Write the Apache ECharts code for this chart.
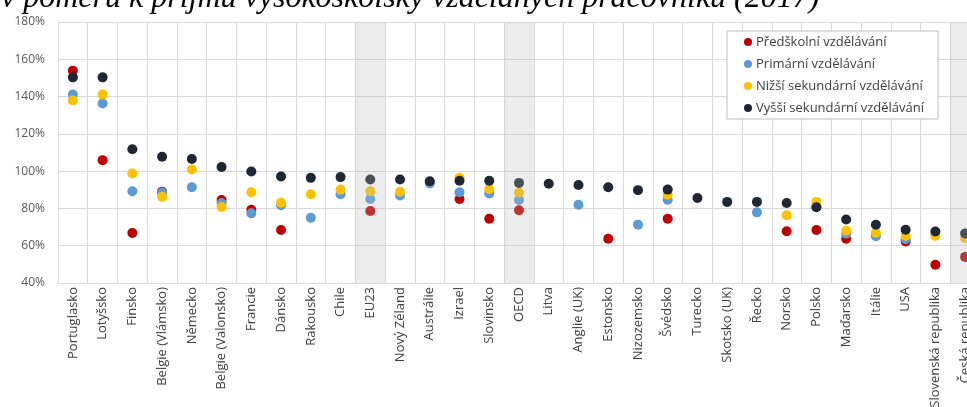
<!DOCTYPE html>
<html>
<head>
<meta charset="utf-8">
<script src="https://cdn.jsdelivr.net/npm/echarts@6/dist/echarts.min.js"></script>
<style>
html,body{margin:0;padding:0;background:#fff;}
#c{width:967px;height:407px;}
</style>
</head>
<body>
<div id="c"></div>
<script>
const titleText = 'v poměru k příjmu vysokoškolsky vzdělaných pracovníků (2017)';
const categories = ['Portuglasko','Lotyšsko','Finsko','Belgie (Vlámsko)','Německo','Belgie (Valonsko)','Francie','Dánsko','Rakousko','Chile','EU23','Nový Zéland','Austrálie','Izrael','Slovinsko','OECD','Litva','Anglie (UK)','Estonsko','Nizozemsko','Švédsko','Turecko','Skotsko (UK)','Řecko','Norsko','Polsko','Maďarsko','Itálie','USA','Slovenská republika','Česká republika'];
const seriesNames = ['Předškolní vzdělávání','Primární vzdělávání','Nižší sekundární vzdělávání','Vyšší sekundární vzdělávání'];
const preschool = [153.9,105.9,66.8,89.0,null,84.5,79.3,68.4,null,null,78.6,null,null,85.1,74.5,79.0,null,null,63.7,null,74.5,null,null,null,67.8,68.4,63.7,null,62.3,49.8,54.0];
const primary = [141.1,136.3,89.2,88.5,91.4,82.9,77.4,81.7,75.0,87.6,85.1,86.9,93.4,88.7,88.0,84.5,null,82.0,null,71.2,84.7,null,null,77.9,null,80.8,66.5,65.1,63.5,null,null];
const lowerSecondary = [137.9,141.1,98.7,86.2,100.9,80.8,88.7,83.1,87.6,90.1,89.2,88.9,null,96.4,90.3,88.5,null,null,null,null,87.4,null,null,null,76.3,83.5,68.0,66.9,65.4,65.4,64.0];
const upperSecondary = [150.3,150.3,111.7,107.7,106.5,102.2,99.8,97.1,96.4,96.8,95.5,95.5,94.6,94.8,94.8,93.7,93.2,92.6,91.4,89.8,90.1,85.6,83.5,83.5,82.9,80.6,74.1,71.2,68.6,67.6,66.6];
const highlighted = ['EU23','OECD','Česká republika'];
const yTicks = {min: 40, max: 180, interval: 20};

const colors = ['#c00000','#5b9bd5','#ffc000','#1e2733'];
const values = [preschool, primary, lowerSecondary, upperSecondary];

const chart = echarts.init(document.getElementById('c'), null, {renderer:'canvas'});
const scatterSeries = values.map((arr, i) => ({
  name: seriesNames[i],
  type: 'scatter',
  symbol: 'circle',
  symbolSize: 10,
  z: 2 + i * 0.01,
  itemStyle: {color: colors[i], opacity: 1},
  data: arr
}));
const bandData = categories.map(c => highlighted.includes(c) ? yTicks.max : null);

chart.setOption({
  backgroundColor: '#ffffff',
  animation: false,
  textStyle: {fontFamily: '"Open Sans", sans-serif'},
  grid: {left: 58, right: -13, top: 22, bottom: 124, containLabel: false, outerBoundsMode: 'none'},
  graphic: [{
    type: 'text', left: 1, top: -17, z: 100,
    style: {text: titleText, font: 'italic 32px "Liberation Serif", serif', fill: '#000'}
  }],
  legend: {
    data: seriesNames,
    orient: 'vertical',
    left: 727, top: 31,
    padding: [3, 14, 3, 17],
    itemGap: 6,
    itemWidth: 8, itemHeight: 8,
    icon: 'circle',
    backgroundColor: '#ffffff',
    borderColor: '#bfbfbf', borderWidth: 1, borderRadius: 0,
    textStyle: {fontSize: 13, lineHeight: 16, color: '#404040', fontFamily: '"Open Sans", sans-serif', padding: [0,0,0,-1]}
  },
  xAxis: {
    type: 'category',
    data: categories,
    boundaryGap: true,
    axisTick: {show: false},
    axisLine: {show: true, lineStyle: {color: '#d9d9d9'}},
    splitLine: {show: true, lineStyle: {color: '#d9d9d9', width: 1}},
    axisLabel: {interval: 0, rotate: 90, margin: 4, fontSize: 13, color: '#404040', fontFamily: '"Open Sans", sans-serif'}
  },
  yAxis: {
    type: 'value',
    min: yTicks.min, max: yTicks.max, interval: yTicks.interval,
    axisLine: {show: false},
    axisTick: {show: false},
    splitLine: {lineStyle: {color: '#d9d9d9'}},
    axisLabel: {formatter: '{value}%', fontSize: 12, color: '#595959', margin: 13, fontFamily: '"Open Sans", sans-serif'}
  },
  series: scatterSeries.concat([{
    name: 'band',
    type: 'bar',
    silent: true,
    barWidth: '100%',
    z: 5,
    itemStyle: {color: 'rgba(188,188,188,0.28)'},
    data: bandData
  }])
});
</script>
</body>
</html>
